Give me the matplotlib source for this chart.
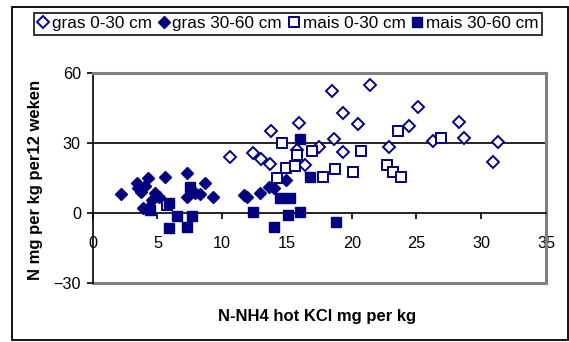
import matplotlib.pyplot as plt
from matplotlib.patches import Rectangle

plt.rcParams['font.family'] = ['Liberation Sans', 'DejaVu Sans']

NAVY = '#000080'

# gras 0-30 cm (open diamonds)
GRAS_0_30_X = [10.6, 12.4, 13.0, 13.8, 13.7, 15.9, 15.8, 16.4, 17.5, 18.5, 18.6, 19.3,
               19.3, 20.5, 21.4, 22.9, 24.4, 25.1, 26.3, 28.3, 28.7, 30.9, 31.3]
GRAS_0_30_Y = [24.0, 25.9, 23.1, 35.0, 21.0, 38.6, 27.0, 20.6, 28.2, 52.4, 31.5, 42.7,
               26.3, 38.0, 54.9, 28.4, 37.2, 45.4, 31.0, 39.1, 32.0, 21.7, 30.5]

# gras 30-60 cm (filled diamonds)
GRAS_30_60_X = [2.2, 3.4, 3.5, 3.7, 4.0, 3.9, 4.3, 4.3, 4.6, 4.8, 5.1, 5.6, 7.3, 7.3,
                7.9, 8.3, 8.7, 9.3, 11.7, 11.9, 12.9, 13.6, 14.0, 14.9]
GRAS_30_60_Y = [8.0, 13.0, 10.5, 9.0, 11.5, 2.0, 15.0, 2.0, 5.5, 8.5, 7.0, 15.3, 17.0, 7.0,
                8.4, 8.0, 13.0, 6.8, 7.5, 7.0, 8.5, 11.0, 10.5, 14.0]

# mais 0-30 cm (open squares)
MAIS_0_30_X = [5.7, 14.6, 15.8, 16.9, 20.7, 23.6, 26.9, 14.9, 15.6, 14.2, 17.8, 18.7,
               20.1, 22.7, 23.2, 23.8]
MAIS_0_30_Y = [3.5, 30.2, 24.9, 26.4, 26.4, 35.0, 32.0, 19.2, 20.3, 14.9, 15.3, 18.7,
               17.7, 20.6, 17.4, 15.3]

# mais 30-60 cm (filled squares)
MAIS_30_60_X = [16.0, 16.8, 14.5, 15.2, 15.1, 16.0, 14.0, 18.8, 12.4, 5.9, 6.5, 5.9,
                7.3, 7.7, 7.5, 4.4]
MAIS_30_60_Y = [31.7, 15.3, 6.3, 6.3, -0.9, 0.6, -6.0, -3.7, 0.6, 4.2, -1.4, -6.6,
                -6.1, -1.3, 11.3, 1.3]

X_TICKS = [0, 5, 10, 15, 20, 25, 30, 35]
Y_TICKS = [-30, 0, 30, 60]

fig = plt.figure(figsize=(5.69, 3.42), dpi=100)
ax = fig.add_axes([92.7 / 569, 1 - 283 / 342, (546 - 92.7) / 569, (283 - 73) / 342])

# outer chart border
fig.patches.append(Rectangle((12 / 569, 2 / 342), 556 / 569, 333 / 342,
                             transform=fig.transFigure, fill=False,
                             edgecolor='black', linewidth=1.3))

ax.plot(GRAS_0_30_X, GRAS_0_30_Y, 'D', ms=5.8, mfc='white', mec=NAVY, mew=1.4,
        label='gras 0-30 cm', zorder=5)
ax.plot(GRAS_30_60_X, GRAS_30_60_Y, 'D', ms=5.8, mfc=NAVY, mec=NAVY, mew=1.0,
        label='gras 30-60 cm', zorder=5)
ax.plot(MAIS_0_30_X, MAIS_0_30_Y, 's', ms=7.0, mfc='white', mec=NAVY, mew=1.4,
        label='mais 0-30 cm', zorder=5)
ax.plot(MAIS_30_60_X, MAIS_30_60_Y, 's', ms=7.0, mfc=NAVY, mec=NAVY, mew=1.0,
        label='mais 30-60 cm', zorder=5)

ax.set_xlim(0, 35)
ax.set_ylim(-30, 60)
ax.set_xticks(X_TICKS)
ax.set_yticks(Y_TICKS)

ax.axhline(30, color='black', lw=1.2, zorder=1)
ax.axhline(-30, color='#808080', lw=2.2, zorder=1, clip_on=False)

ax.spines['bottom'].set_position(('data', 0))
ax.spines['bottom'].set_color('black')
ax.spines['bottom'].set_linewidth(1.2)
ax.spines['left'].set_color('black')
ax.spines['left'].set_linewidth(1.2)
for side in ['top', 'right']:
    ax.spines[side].set_color('#808080')
    ax.spines[side].set_linewidth(2.2)

ax.tick_params(axis='x', direction='out', length=4.5, width=1.2, pad=12, labelsize=11.7)
ax.tick_params(axis='y', direction='out', length=4.5, width=1.2, pad=4, labelsize=11.7)

ax.set_xlabel('N-NH4 hot KCl mg per kg', fontsize=12, fontweight='bold')
ax.xaxis.set_label_coords(0.495, -0.125)
ax.set_ylabel('N mg per kg per12 weken', fontsize=12, fontweight='bold')
ax.yaxis.set_label_coords(-0.11, 0.49)

leg = fig.legend(loc='upper left', bbox_to_anchor=(34 / 569, 1 - 13 / 342), ncol=4,
                 fontsize=12.3, frameon=True, fancybox=False, borderpad=0.2,
                 handlelength=0.7, handletextpad=0.15, columnspacing=0.35,
                 borderaxespad=0)
leg.get_frame().set_edgecolor('black')
leg.get_frame().set_linewidth(1.4)

fig.savefig('out.png', dpi=100)
